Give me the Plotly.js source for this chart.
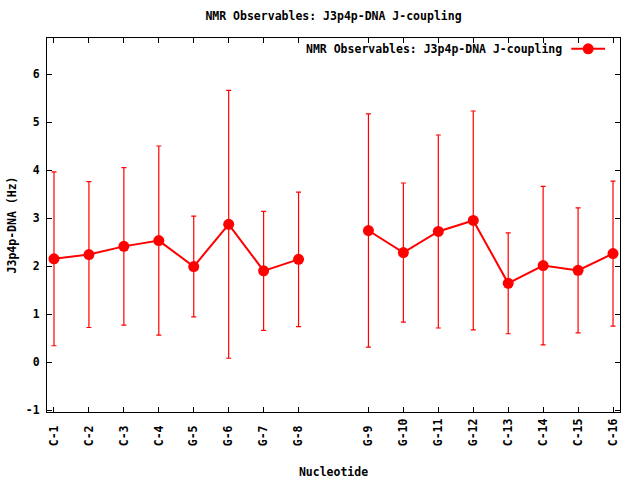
<!DOCTYPE html>
<html>
<head>
<meta charset="utf-8">
<script src="https://cdn.plot.ly/plotly-3.0.1.min.js"></script>
<style>html,body{margin:0;padding:0;background:#fff;}#chart{width:640px;height:480px;}</style>
</head>
<body>
<div id="chart"></div>
<script>
// Data
var strand1Labels = ["C-1","C-2","C-3","C-4","G-5","G-6","G-7","G-8"];
var strand1Pos    = [1,2,3,4,5,6,7,8];
var strand1Value  = [2.15,2.24,2.41,2.53,1.99,2.87,1.90,2.14];
var strand1Err    = [1.81,1.52,1.64,1.97,1.05,2.79,1.24,1.40];

var strand2Labels = ["G-9","G-10","G-11","G-12","C-13","C-14","C-15","C-16"];
var strand2Pos    = [10,11,12,13,14,15,16,17];
var strand2Value  = [2.74,2.28,2.72,2.95,1.64,2.01,1.91,2.26];
var strand2Err    = [2.43,1.45,2.01,2.28,1.05,1.65,1.30,1.51];

var seriesName = "NMR Observables: J3p4p-DNA J-coupling";
var titleText = "NMR Observables: J3p4p-DNA J-coupling";
var xTitle = "Nucleotide";
var yTitle = "J3p4p-DNA (Hz)";
var yTicks = [-1,0,1,2,3,4,5,6];

var RED = "#ff0000";
var FONT = "DejaVu Sans Mono";

function mkTrace(pos, val, err) {
  return {
    x: pos, y: val, type: "scatter", mode: "lines+markers",
    name: seriesName, showlegend: false,
    line: {color: RED, width: 2},
    marker: {color: RED, size: 11, symbol: "circle"},
    error_y: {type: "data", array: err, visible: true, color: RED, thickness: 1.2, width: 2.5}
  };
}

var tickPos = strand1Pos.concat(strand2Pos);
var tickText = strand1Labels.concat(strand2Labels).map(function(s){
  var t = s; while (t.length < 4) t = t + "\u00a0"; return t;
});

var axisCommon = {
  showgrid: false, zeroline: false, showline: true, linecolor: "#000", linewidth: 1,
  mirror: "ticks", ticks: "inside", ticklen: 5, tickcolor: "#000", tickwidth: 1,
  tickfont: {family: FONT, size: 11.5, color: "#000", weight: "bold"}
};

var layout = {
  width: 640, height: 480,
  paper_bgcolor: "#fff", plot_bgcolor: "#fff",
  margin: {l: 47, r: 20, t: 38, b: 68},
  showlegend: false,
  title: {text: titleText, x: 0.5, xref: "paper", y: 1, yref: "container", yanchor: "top", pad: {t: 12},
          font: {family: FONT, size: 11.5, color: "#000", weight: "bold"}},
  xaxis: Object.assign({}, axisCommon, {
    range: [0.8, 17.2], tickmode: "array", tickvals: tickPos, ticktext: tickText,
    tickangle: -90, ticklabelstandoff: 1,
    title: {text: xTitle, standoff: 22, font: {family: FONT, size: 11.5, color: "#000", weight: "bold"}}
  }),
  yaxis: Object.assign({}, axisCommon, {
    range: [-1.04, 6.75], tickmode: "array", tickvals: yTicks, ticktext: yTicks.map(String),
    ticklabelstandoff: 4,
    title: {text: yTitle, standoff: 6, font: {family: FONT, size: 11.5, color: "#000", weight: "bold"}}
  }),
  annotations: [{
    xref: "paper", yref: "paper", x: 0.903, y: 0.971, xanchor: "right", yanchor: "middle",
    text: seriesName, showarrow: false,
    font: {family: FONT, size: 11.5, color: "#000", weight: "bold"}
  }],
  shapes: [
    {type: "line", xref: "paper", yref: "paper", x0: 0.915, x1: 0.974, y0: 0.971, y1: 0.971,
     line: {color: RED, width: 2}},
    {type: "circle", xref: "paper", yref: "paper", xsizemode: "pixel", ysizemode: "pixel",
     xanchor: 0.9445, yanchor: 0.971, x0: -5.5, x1: 5.5, y0: -5.5, y1: 5.5,
     fillcolor: RED, line: {color: RED, width: 0}}
  ]
};

Plotly.newPlot("chart", [mkTrace(strand1Pos, strand1Value, strand1Err), mkTrace(strand2Pos, strand2Value, strand2Err)], layout, {staticPlot: true, displayModeBar: false});
</script>
</body>
</html>
